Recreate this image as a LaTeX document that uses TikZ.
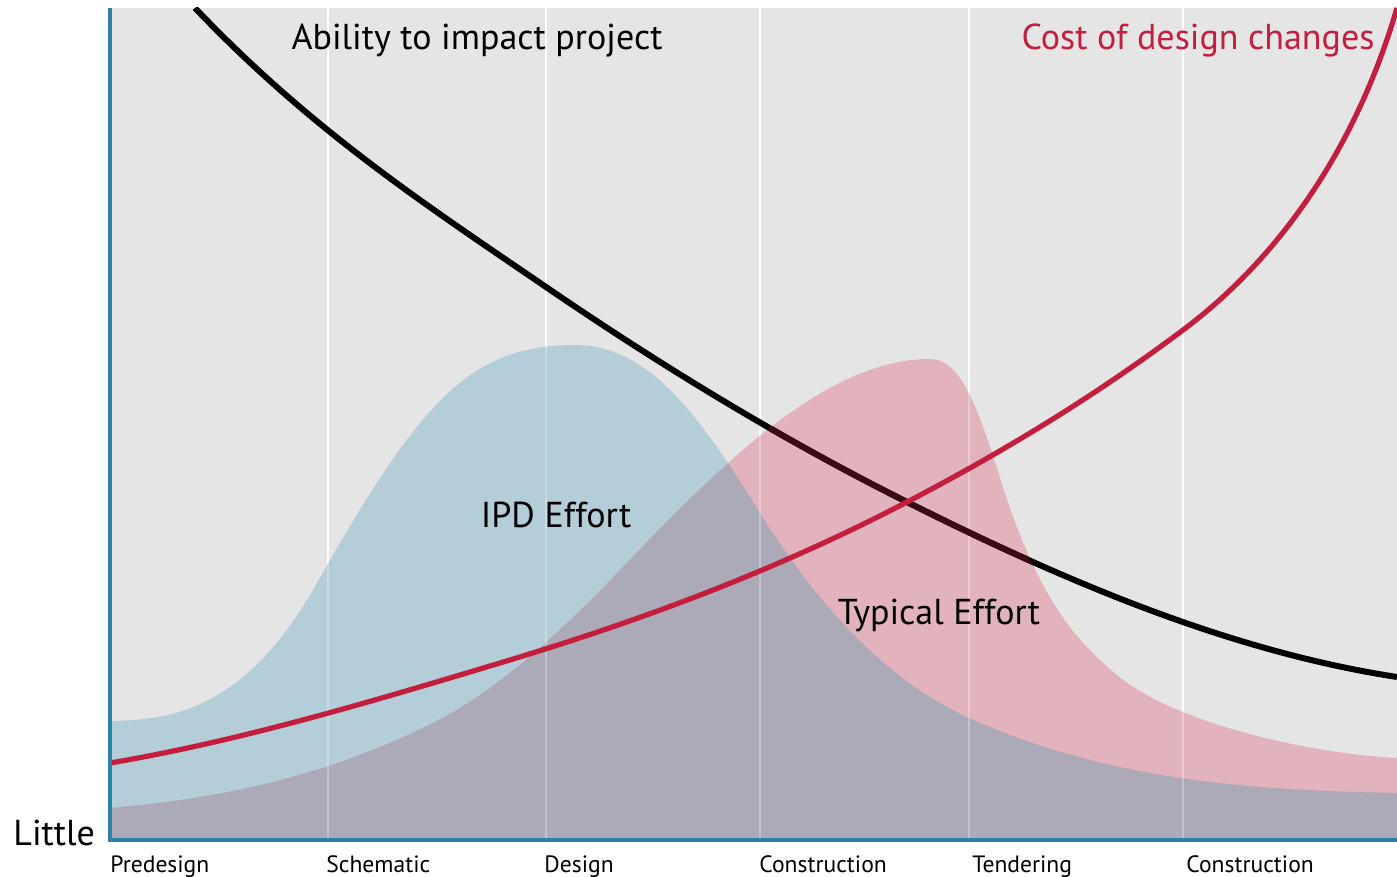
\documentclass[tikz,border=0pt]{standalone}
\usepackage{fontspec}
\setmainfont{PT Sans}
\usepackage{tikz}
\usetikzlibrary{positioning}

\definecolor{panelgray}{HTML}{E5E5E5}
\definecolor{ipdblue}{HTML}{B3CDD9}
\definecolor{typpink}{HTML}{E2B3BD}
\definecolor{bothgray}{HTML}{ACA9B8}
\definecolor{costred}{HTML}{C41E3F}
\definecolor{axisblue}{HTML}{2F80A8}
\definecolor{impactdark}{HTML}{3A0A16}

\begin{document}
\begin{tikzpicture}[x=0.5pt, y=-0.5pt,
    every node/.append style={inner sep=0pt, font=\fontsize{18}{21}\selectfont},
    phase/.style={anchor=base west, font=\fontsize{11.8}{13}\selectfont},
    gridline/.style={line width=1pt, white},
    impact/.style={line width=3pt, black},
    cost/.style={line width=2.6pt, costred},
    axis/.style={line width=2pt, axisblue},
    ipdarea/.style={insert path={(110,840) -- (110,721)
      .. controls (179,720) and (248,705) .. (317,583)
      .. controls (420,401) and (470,345) .. (575,345)
      .. controls (650,345) and (700,417) .. (760,513)
      .. controls (830,625) and (899,686) .. (969,718)
      .. controls (1112,782) and (1254,790) .. (1397,793)
      -- (1397,840) -- cycle}},
    typicalarea/.style={insert path={(110,840) -- (110,808)
      .. controls (218,799) and (325,777) .. (433,723)
      .. controls (495,692) and (558,635) .. (620,570)
      .. controls (723,462) and (827,359) .. (930,359)
      .. controls (960,359) and (977,404) .. (1000,478)
      .. controls (1039,603) and (1078,642) .. (1117,675)
      .. controls (1170,720) and (1300,753) .. (1397,758)
      -- (1397,840) -- cycle}},
    impactcurve/.style={insert path={(195,8)
      .. controls (312,131) and (429,207) .. (546,287)
      .. controls (666,369) and (787,442) .. (907,502)
      .. controls (1070,584) and (1234,652) .. (1397,677)}}]

  \useasboundingbox (0,0) rectangle (1397,877);
  \fill[white] (0,0) rectangle (1397,877);
  \fill[panelgray] (110,8) rectangle (1397,840);
  \foreach \gx in {328,546,760,969,1183}
    \draw[gridline] (\gx,8) -- (\gx,840);

  % effort areas
  \fill[ipdblue, ipdarea];
  \fill[typpink, typicalarea];
  \begin{scope}
    \clip[ipdarea];
    \fill[bothgray, typicalarea];
  \end{scope}
  \foreach \gx in {328,546,760,969,1183}
    \draw[gridline, opacity=0.3] (\gx,8) -- (\gx,840);

  % ability and cost curves
  \begin{scope}
    \clip (110,8) rectangle (1397,840);
    \draw[impact, impactcurve];
    \begin{scope}
      \clip[typicalarea];
      \draw[impact, draw=impactdark, impactcurve];
    \end{scope}
    \draw[cost] (110,763)
      .. controls (240,741) and (370,702) .. (500,663)
      .. controls (636,622) and (771,573) .. (907,502)
      .. controls (999,454) and (1091,399) .. (1183,330)
      .. controls (1254,277) and (1347,178) .. (1397,8);
  \end{scope}

  \draw[axis] (110,8) -- (110,840) -- (1397,840);

  \node[anchor=base] (impactlabel) at (477,50) {Ability to impact project};
  \node[anchor=base, text=costred] (costlabel) at (1198,50) {Cost of design changes};
  \node[anchor=base] (ipdlabel) at (556,527) {IPD Effort};
  \node[anchor=base] (typicallabel) at (939,624) {Typical Effort};
  \node[anchor=base west] (little) at (13,845) {Little};

  \node[phase] (predesign) at (110,872) {Predesign};
  \node[phase] (schematic) at (326,872) {Schematic};
  \node[phase] (design) at (544,872) {Design};
  \node[phase] (construction) at (759,872) {Construction};
  \node[phase] (tendering) at (972,872) {Tendering};
  \node[phase] (building) at (1186,872) {Construction};
\end{tikzpicture}
\end{document}
